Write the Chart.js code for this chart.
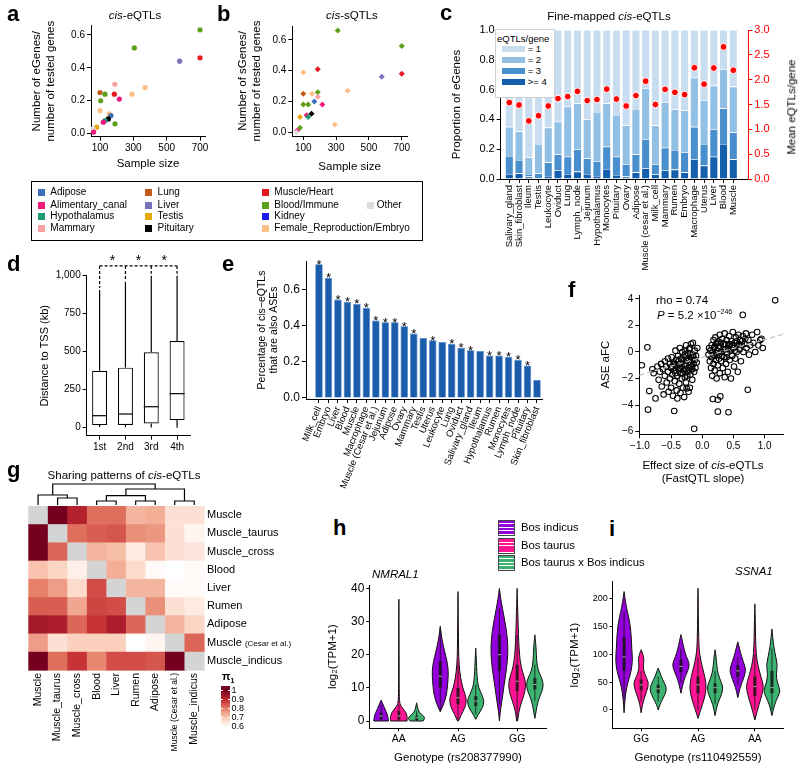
<!DOCTYPE html>
<html>
<head>
<meta charset="utf-8">
<title>cis-eQTL figure</title>
<script src="https://cdn.jsdelivr.net/npm/chart.js@4.4.1/dist/chart.umd.min.js"></script>
<style>
  body { margin: 0; background: #fff; }
  #fig { position: relative; width: 800px; height: 769px; overflow: hidden; font-family: "Liberation Sans", Arial, sans-serif; color: #000; }
  #fig canvas { position: absolute; }
  .t { position: absolute; white-space: nowrap; line-height: 1; }
  .c { transform: translate(-50%, -50%); }
  .lt { position: absolute; font-weight: bold; font-size: 22px; line-height: 22px; }
</style>
</head>
<body>
<div id="fig">
  <canvas id="ca" width="215" height="175" style="left:0;top:0"></canvas>
  <canvas id="cb" width="200" height="175" style="left:215px;top:0"></canvas>
  <canvas id="cc" width="360" height="270" style="left:440px;top:0"></canvas>
  <canvas id="cd" width="215" height="215" style="left:0;top:245px"></canvas>
  <canvas id="ce" width="330" height="265" style="left:220px;top:240px"></canvas>
  <canvas id="cf" width="240" height="210" style="left:560px;top:280px"></canvas>
  <canvas id="cg" width="305" height="305" style="left:0;top:460px"></canvas>
  <canvas id="ch" width="250" height="209" style="left:300px;top:560px"></canvas>
  <canvas id="ci" width="240" height="209" style="left:560px;top:560px"></canvas>

  <div class="lt" style="left:7px;top:3px">a</div>
  <div class="lt" style="left:217px;top:3px">b</div>
  <div class="lt" style="left:440px;top:2px">c</div>
  <div class="lt" style="left:7px;top:253px">d</div>
  <div class="lt" style="left:222px;top:253px">e</div>
  <div class="lt" style="left:568px;top:279px">f</div>
  <div class="lt" style="left:7px;top:459px">g</div>
  <div class="lt" style="left:333px;top:517px">h</div>
  <div class="lt" style="left:609px;top:518px">i</div>

  <div class="t c" style="left:135px;top:16px;font-size:11.5px"><i>cis</i>-eQTLs</div>
  <div class="t c" style="left:352px;top:16px;font-size:11.5px"><i>cis</i>-sQTLs</div>
  <div class="t c" style="left:609px;top:17px;font-size:11.5px">Fine-mapped <i>cis</i>-eQTLs</div>
  <div class="t" style="left:792px;top:107px;font-size:11.5px;color:#000;transform:translate(-50%,-50%) rotate(-90deg)">Mean eQTLs/gene</div>
  <div class="t c" style="left:124px;top:476px;font-size:11.5px">Sharing patterns of <i>cis</i>-eQTLs</div>
  <div class="t c" style="left:703px;top:466px;font-size:11.5px">Effect size of <i>cis</i>-eQTLs</div>
  <div class="t c" style="left:703px;top:479px;font-size:11.5px">(FastQTL slope)</div>
  <div class="t" style="left:656px;top:295px;font-size:11.5px">rho = 0.74</div>
  <div class="t" style="left:657px;top:308px;font-size:11.5px"><i>P</i> = 5.2 ×10<sup style="font-size:7px">−246</sup></div>
  <div class="t" style="left:372px;top:569px;font-size:11.5px;font-style:italic">NMRAL1</div>
  <div class="t" style="left:735px;top:566px;font-size:11.5px;font-style:italic">SSNA1</div>

  <div id="legab" style="position:absolute;left:31px;top:181px;width:390px;height:58px;border:1px solid #000;font-size:10px"></div>
  <div id="legc" style="position:absolute;left:495px;top:29px;width:58px;height:67px;background:#fff;border:1px solid #d0d0d0;font-size:9.5px"></div>
  <div id="legg"></div>
  <div id="legh"></div>
</div>

<script>
// ---------- a / b : eGenes and sGenes against sample size
const groups = ['Adipose', 'Alimentary_canal', 'Hypothalamus', 'Mammary', 'Lung', 'Liver', 'Testis', 'Pituitary',
  'Muscle/Heart', 'Blood/Immune', 'Kidney', 'Female_Reproduction/Embryo', 'Other'];
const groupColors = ['#3a6fb7', '#ef1a7c', '#1c9a78', '#f7a3a3', '#c25a1c', '#7a72b8', '#e5a70c', '#000000',
  '#e3191f', '#5c9f1a', '#1b1bf5', '#fdbf88', '#dcdcdc'];

const aSize  = [700, 306, 578, 700, 189, 370, 100, 130, 186, 104, 292, 216, 100, 156, 166, 150, 130, 120, 190, 80, 58, 62];
const aRatio = [0.63, 0.52, 0.44, 0.46, 0.30, 0.28, 0.25, 0.24, 0.24, 0.20, 0.24, 0.21, 0.14, 0.12, 0.11, 0.09, 0.08, 0.07, 0.06, 0.04, 0.03, 0.01];
const aGroup = [9, 9, 5, 8, 3, 11, 4, 9, 8, 9, 11, 1, 11, 11, 0, 7, 2, 1, 9, 6, 12, 1];

const bSize  = [310, 700, 188, 100, 578, 700, 100, 153, 188, 188, 370, 167, 100, 130, 216, 150, 120, 130, 80, 292, 80, 62, 58];
const bRatio = [0.66, 0.56, 0.41, 0.39, 0.36, 0.38, 0.25, 0.25, 0.26, 0.23, 0.27, 0.20, 0.18, 0.18, 0.18, 0.12, 0.11, 0.10, 0.10, 0.05, 0.03, 0.01, 0.00];
const bGroup = [9, 9, 8, 11, 5, 8, 4, 11, 9, 3, 11, 0, 9, 9, 1, 7, 1, 2, 6, 11, 9, 1, 12];

// ---------- c : fine-mapped eQTLs per gene
const cTissues = ['Salivary_gland', 'Skin_fibroblast', 'Ileum', 'Testis', 'Leukocyte', 'Oviduct', 'Lung', 'Lymph_node',
  'Jejunum', 'Hypothalamus', 'Monocytes', 'Pituitary', 'Ovary', 'Adipose', 'Muscle (cesar et al.)', 'Milk_cell',
  'Mammary', 'Rumen', 'Embryo', 'Macrophage', 'Uterus', 'Liver', 'Blood', 'Muscle'];
const cGe4 = [.034, .038, .016, .005, .020, .060, .034, .050, .034, .020, .067, .027, .016, .045, .072, .031, .060, .063, .045, .134, .090, .150, .235, .132];
const cEq3 = [.121, .090, .018, .033, .092, .105, .116, .150, .105, .100, .150, .123, .084, .120, .196, .069, .150, .132, .135, .216, .145, .185, .239, .181];
const cEq2 = [.195, .192, .111, .197, .233, .220, .335, .308, .261, .330, .291, .280, .260, .305, .342, .260, .305, .272, .280, .330, .295, .292, .264, .307];
const cEq1 = [.650, .680, .855, .765, .655, .615, .515, .492, .600, .550, .492, .570, .640, .530, .390, .640, .485, .533, .540, .320, .470, .373, .262, .380];
const cMean = [1.54, 1.49, 1.17, 1.275, 1.47, 1.62, 1.66, 1.765, 1.58, 1.60, 1.81, 1.61, 1.47, 1.68, 1.97, 1.50, 1.805, 1.745, 1.70, 2.24, 1.91, 2.235, 2.66, 2.19];
const cClasses = ['>= 4', '= 3', '= 2', '= 1'];
const cColors = ['#135fae', '#4a8fcd', '#92bfe4', '#c9ddf0'];

// ---------- d : distance to TSS by signal rank
const dRank = ['1st', '2nd', '3rd', '4th'];
const dLow  = [5, 3, 2, 0];
const dQ1   = [17, 18, 28, 50];
const dMed  = [79, 90, 138, 224];
const dQ3   = [375, 395, 496, 570];
const dHigh = [906, 960, 1000, 1000];

// ---------- e : share of cis-eQTLs that are ASEs
const eTissues = ['Milk_cell', 'Embryo', 'Liver', 'Blood', 'Muscle', 'Macrophage', 'Muscle (Cesar et al.)', 'Jejunum',
  'Adipose', 'Ovary', 'Mammary', 'Testis', 'Uterus', 'Leukocyte', 'Lung', 'Oviduct', 'Salivary_gland', 'Ileum',
  'Hypothalamus', 'Rumen', 'Monocytes', 'Lymph_node', 'Pituitary', 'Skin_fibroblast'];
const eShare = [0.742, 0.667, 0.546, 0.533, 0.522, 0.50, 0.43, 0.42, 0.42, 0.398, 0.357, 0.333, 0.32, 0.311, 0.30, 0.278, 0.265, 0.261, 0.235, 0.235, 0.228, 0.212, 0.18, 0.101];
const eSig = [1, 1, 1, 1, 1, 1, 1, 1, 1, 1, 1, 0, 1, 0, 1, 1, 1, 0, 1, 1, 1, 1, 1, 0];

// ---------- f : eQTL slope vs ASE aFC
const fPoints = [
  [-0.97, -1.0], [-0.88, 0.35], [-0.87, -4.35], [-0.85, -2.95], [-0.8, -1.3], [-0.78, -1.6], [-0.75, -3.5], [-0.72, -1.1],
  [-0.7, -2.1], [-0.68, -1.5], [-0.66, -0.9], [-0.65, -2.6], [-0.63, -1.3], [-0.62, -3.2], [-0.6, -0.7], [-0.6, -1.8],
  [-0.58, -1.1], [-0.57, -2.3], [-0.55, -0.5], [-0.55, -1.5], [-0.54, -3.0], [-0.52, -0.9], [-0.52, -2.0], [-0.5, -1.2],
  [-0.5, -2.7], [-0.49, -0.4], [-0.48, -1.7], [-0.47, -3.3], [-0.46, -0.8], [-0.45, -4.45], [-0.45, -1.4], [-0.44, -2.2],
  [-0.43, 0.1], [-0.42, -0.6], [-0.42, -1.0], [-0.41, -2.9], [-0.4, -1.8], [-0.4, -3.5], [-0.39, -0.3], [-0.38, -1.3],
  [-0.37, -2.4], [-0.36, -0.9], [-0.36, 0.3], [-0.35, -1.6], [-0.35, -3.1], [-0.34, -0.5], [-0.33, -2.0], [-0.33, -1.1],
  [-0.32, 0.0], [-0.31, -2.7], [-0.3, -0.7], [-0.3, -1.4], [-0.29, -3.4], [-0.28, -0.2], [-0.28, -1.9], [-0.27, -1.0],
  [-0.26, 0.5], [-0.26, -2.3], [-0.25, -0.6], [-0.25, -2.75], [-0.24, -1.5], [-0.23, -0.1], [-0.22, -1.2], [-0.22, -3.0],
  [-0.21, 0.2], [-0.2, -0.8], [-0.2, -2.7], [-0.19, -1.7], [-0.18, -0.4], [-0.18, 0.6], [-0.17, -1.1], [-0.16, -2.1],
  [-0.15, -0.2], [-0.15, 0.7], [-0.14, -0.9], [-0.13, -5.8], [-0.13, -1.5], [-0.12, 0.1], [-0.12, -0.6], [-0.11, -1.2],
  [-0.1, -0.3], [-0.09, -0.8], [-0.08, 0.3],
  [-0.45, -0.9], [-0.4, -1.1], [-0.38, -0.7], [-0.35, -1.2], [-0.33, -0.6], [-0.31, -1.6], [-0.29, -0.9], [-0.27, -1.3],
  [-0.25, -0.3], [-0.24, -1.8], [-0.22, -0.5], [-0.21, -1.4], [-0.19, -1.0], [-0.17, -0.6], [-0.16, -1.3], [-0.14, -0.4],
  [-0.2, 0.3], [-0.27, 0.1], [-0.48, -1.1], [-0.43, -1.6],
  [0.1, -0.2], [0.11, 0.3], [0.12, -0.7], [0.13, 0.1], [0.14, -1.2], [0.15, 0.5], [0.15, -0.4], [0.16, -1.8],
  [0.17, -3.55], [0.17, 0.0], [0.18, 0.9], [0.18, -0.9], [0.19, 0.3], [0.2, -1.4], [0.2, -0.3], [0.21, 1.1],
  [0.22, 0.6], [0.22, -0.6], [0.23, -2.0], [0.24, 0.1], [0.25, -3.6], [0.25, -4.5], [0.25, -1.0], [0.26, 0.8],
  [0.27, -0.2], [0.28, 1.3], [0.28, -1.6], [0.29, -3.35], [0.29, 0.4], [0.3, -0.7], [0.31, 0.0], [0.32, 1.0],
  [0.33, -1.2], [0.34, 0.6], [0.35, -0.4], [0.36, 1.4], [0.36, -1.9], [0.37, 0.2], [0.38, -0.9], [0.39, 0.9],
  [0.4, -0.1], [0.41, -1.5], [0.42, -4.55], [0.42, 0.5], [0.43, 1.2], [0.44, -0.6], [0.45, 0.1], [0.46, -2.0],
  [0.47, 0.8], [0.48, -0.3], [0.49, 1.5], [0.5, 0.3], [0.51, -1.1], [0.52, 0.7], [0.53, -0.5], [0.54, 1.1],
  [0.55, 0.0], [0.56, 0.5], [0.57, -1.5], [0.58, 1.3], [0.6, 0.2], [0.61, 0.9], [0.62, -0.7], [0.63, 0.5],
  [0.65, 2.8], [0.65, 1.2], [0.66, 0.0], [0.68, 0.6], [0.7, 1.4], [0.71, 0.3], [0.73, -2.85], [0.74, 0.9],
  [0.75, -0.2], [0.77, 0.5], [0.8, 1.3], [0.82, 0.7], [0.85, 0.0], [0.88, 1.5], [0.9, 0.5], [0.93, 0.9],
  [0.95, 1.0], [0.97, 0.3], [1.17, 3.9],
  [0.18, -0.2], [0.2, 0.4], [0.22, -0.1], [0.24, 0.7], [0.26, 0.3], [0.27, -0.5], [0.3, 0.7], [0.32, -0.3],
  [0.34, 0.2], [0.37, 0.6], [0.39, -0.4], [0.41, 0.3], [0.44, 0.6], [0.46, 0.2], [0.48, 0.5], [0.52, 0.1],
  [0.55, 0.8], [0.59, 0.6], [0.64, 0.8], [0.69, 1.0]
];
const fFit = [[-1.01, -1.75], [1.3, 1.34]];

// ---------- g : pi1 sharing between muscle / tissue sets
const gNames = ['Muscle', 'Muscle_taurus', 'Muscle_cross', 'Blood', 'Liver', 'Rumen', 'Adipose', 'Muscle (Cesar et al.)', 'Muscle_indicus'];
const gPi1 = [
  [null, 1.00, 0.92, 0.82, 0.82, 0.73, 0.74, 0.66, 0.66],
  [1.00, null, 0.82, 0.84, 0.85, 0.78, 0.77, 0.66, 0.62],
  [1.00, 0.83, null, 0.73, 0.72, 0.64, 0.71, 0.66, 0.65],
  [0.71, 0.68, 0.63, null, 0.74, 0.67, 0.61, 0.60, 0.61],
  [0.80, 0.76, 0.67, 0.86, null, 0.73, 0.73, 0.61, 0.61],
  [0.84, 0.84, 0.75, 0.87, 0.86, null, 0.78, 0.66, 0.64],
  [0.94, 0.93, 0.83, 0.89, 0.93, 0.83, null, 0.73, 0.68],
  [0.76, 0.66, 0.69, 0.69, 0.69, 0.60, 0.62, null, 0.83],
  [1.00, 0.82, 0.89, 0.79, 0.86, 0.86, 0.85, 1.00, null]
];
// merges: [left, right, height]; numbers are leaves, 'mK' is merge K
const gTree = [[1, 2, 7], [0, 'm0', 10], [3, 4, 4], [5, 6, 4], ['m2', 'm3', 9.3], [7, 8, 4], ['m4', 'm5', 16], ['m1', 'm6', 21]];
const piStops = [[0.6, [255, 255, 255]], [0.7, [250, 204, 183]], [0.8, [230, 128, 104]], [0.9, [196, 43, 50]], [1.0, [118, 0, 32]]];
const piTicks = [1, 0.9, 0.8, 0.7, 0.6];

// ---------- h / i : expression by genotype and breed
const breeds = ['Bos indicus', 'Bos taurus', 'Bos taurus x Bos indicus'];
const breedColors = ['#9400db', '#ff1493', '#3cb371'];
const hGeno = ['AA', 'AG', 'GG'];
// [genotype][breed] -> [[value, relative half width], ...]
const hViolins = [
  [[[0, .85], [1.5, .8], [3, .55], [4.5, .3], [6.3, 0]],
   [[0, .95], [1, 1], [2.5, .85], [4, .4], [5, .1], [8, .04], [15, .03], [25, .02], [36.7, 0]],
   [[0, .75], [.8, 1], [1.5, .8], [2.5, .35], [3.5, .15], [5.5, 0]]],
  [[[2.8, 0], [5, .4], [8, .75], [12, .9], [15, .95], [18, .8], [21, .5], [24, .25], [26, .12], [28.6, 0]],
   [[0, .05], [2, .4], [4, .8], [6, 1], [8, .85], [10, .55], [13, .3], [17, .12], [22, .06], [25, .06], [30, .03], [39, 0]],
   [[.5, 0], [2, .3], [4, .8], [6, 1], [8, .7], [10, .35], [12, .2], [15, .12], [18, .08], [22, 0]]],
  [[[0, 0], [3, .1], [6, .3], [10, .5], [15, .8], [20, 1], [25, .95], [30, .65], [34, .35], [37, .15], [40, 0]],
   [[0, .05], [3, .2], [6, .55], [9, .95], [12, 1], [15, .6], [18, .35], [22, .22], [26, .15], [31, .1], [35, .05], [40, 0]],
   [[.8, 0], [3, .15], [6, .35], [9, .85], [11, 1], [13, .8], [15, .4], [18, .2], [22, .15], [26, 0]]]
];
// [q1, median, q3, lower, upper]
const hBox = [
  [[0.5, 1.5, 2.5, 0, 5], [0.5, 1.5, 3, 0, 5], [0.3, 1, 1.5, 0, 3]],
  [[10, 13.5, 18, 3, 28], [5, 7, 10, 0, 17], [4.5, 6, 7.5, 2, 11]],
  [[15, 20, 26, 5, 34], [9, 12, 17, 0, 26], [9.5, 11, 13, 6, 17]]
];
const iGeno = ['GG', 'AG', 'AA'];
const iViolins = [
  [[[-5, 0], [20, .1], [40, .3], [55, .55], [70, .85], [90, 1], [110, .9], [130, .85], [155, .7], [175, .4], [195, .15], [212, 0]],
   [[-5, 0], [10, .15], [25, .45], [40, .8], [50, .85], [60, .55], [70, .3], [80, .25], [90, .35], [100, .2], [108, 0]],
   [[0, 0], [10, .2], [20, .55], [35, 1], [45, .85], [55, .5], [65, .25], [75, 0]]],
  [[[30, 0], [45, .2], [60, .5], [75, .95], [85, .95], [95, .65], [110, .35], [125, .15], [135, 0]],
   [[-15, 0], [0, .3], [20, .75], [40, 1], [60, .8], [80, .45], [95, .25], [110, .12], [150, .05], [190, .03], [218, 0]],
   [[-10, 0], [10, .25], [25, .7], [40, .95], [50, .7], [65, .35], [80, .2], [95, .12], [108, 0]]],
  [[[22, 0], [40, .25], [55, .65], [70, .95], [80, .8], [95, .45], [110, .2], [122, 0]],
   [[-18, 0], [0, .3], [20, .7], [35, .95], [45, 1], [60, .7], [80, .35], [100, .15], [130, .08], [160, .05], [190, 0]],
   [[-10, 0], [10, .3], [25, .75], [35, 1], [50, .6], [65, .5], [80, .65], [95, .45], [115, .2], [130, .1], [145, 0]]]
];
const iBox = [
  [[70, 95, 130, 20, 175], [35, 45, 55, 15, 70], [30, 38, 45, 15, 60]],
  [[68, 78, 90, 50, 110], [30, 45, 60, 0, 95], [30, 40, 48, 10, 70]],
  [[60, 70, 80, 45, 95], [25, 42, 60, 0, 100], [30, 40, 70, 0, 110]]
];

// ---------- shared setup
const FONT = '"Liberation Sans", Arial, sans-serif';
Chart.defaults.font.family = FONT;
Chart.defaults.font.size = 10;
Chart.defaults.color = '#000';
Chart.defaults.animation = false;
Chart.defaults.responsive = false;
Chart.defaults.devicePixelRatio = 1;
Chart.defaults.plugins.legend.display = false;
Chart.defaults.plugins.tooltip.enabled = false;

const fixSize = n => s => { if (s.isHorizontal()) s.height = n; else s.width = n; };
const fixTicks = vals => s => { s.ticks = vals.map(v => ({ value: v })); };

function axis(size, extra) {
  const base = {
    afterFit: fixSize(size),
    grid: { drawOnChartArea: false, tickLength: 4, color: '#000' },
    border: { color: '#000' },
    ticks: { color: '#000', padding: 2, autoSkip: false, maxRotation: 0 }
  };
  for (const k in extra) {
    const v = extra[k];
    base[k] = (v && typeof v === 'object' && !Array.isArray(v) && base[k]) ? Object.assign({}, base[k], v) : v;
  }
  return base;
}

// ---------- a, b
function sizeScatter(id, sizes, ratios, grp, style, radius, yTitle, r) {
  new Chart(document.getElementById(id), {
    type: 'scatter',
    data: { datasets: [{
      data: sizes.map((s, i) => ({ x: s, y: ratios[i] })),
      backgroundColor: grp.map(g => groupColors[g]),
      borderWidth: 0, pointStyle: style, pointRadius: radius
    }] },
    options: {
      layout: { padding: r.pad },
      scales: {
        x: axis(r.xh, { min: r.xmin, max: r.xmax, afterBuildTicks: fixTicks([100, 300, 500, 700]),
          ticks: { font: { size: 10 } },
          title: { display: true, text: 'Sample size', font: { size: 11.5 }, padding: { top: 0, bottom: r.tb } } }),
        y: axis(r.yw, { min: r.ymin, max: r.ymax, afterBuildTicks: fixTicks([0, 0.2, 0.4, 0.6]),
          ticks: { font: { size: 10 }, callback: v => v.toFixed(1) },
          title: { display: true, text: yTitle, font: { size: 11.5 }, padding: { top: r.tt, bottom: 0 } } })
      }
    }
  });
}
sizeScatter('ca', aSize, aRatio, aGroup, 'circle', 2.6, ['Number of eGenes/', 'number of tested genes'],
  { pad: { top: 25.7, right: 10 }, xh: 38.3, xmin: 46, xmax: 730, tb: 4.1, yw: 91, ymin: -0.018, ymax: 0.655, tt: 30.1 });
sizeScatter('cb', bSize, bRatio, bGroup, 'rectRot', 3, ['Number of sGenes/', 'number of tested genes'],
  { pad: { top: 26, right: 8 }, xh: 39, xmin: 33, xmax: 732, tb: 1.4, yw: 77.3, ymin: -0.024, ymax: 0.69, tt: 21.1 });

// legend shared by a and b
const legab = document.getElementById('legab');
const swX = [5.7, 113, 229.7, 334.7], rowY = [10.7, 23, 34.7, 46.7];
groups.forEach((g, i) => {
  const col = i < 12 ? Math.floor(i / 4) : 3, row = i < 12 ? i % 4 : 1;
  legab.insertAdjacentHTML('beforeend',
    `<div style="position:absolute;left:${swX[col]}px;top:${rowY[row] - 3.5}px;width:7px;height:7px;background:${groupColors[i]}"></div>` +
    `<div class="t" style="left:${swX[col] + (col === 3 ? 10 : 12.6)}px;top:${rowY[row] - 5.5}px">${g}</div>`);
});

// ---------- c
new Chart(document.getElementById('cc'), {
  type: 'bar',
  data: { datasets: [
    { type: 'scatter', data: cMean.map((v, i) => ({ x: i, y: v })), yAxisID: 'y2', pointRadius: 3.4,
      backgroundColor: '#ff0000', borderColor: '#ffffff', borderWidth: 1 },
    ...[cGe4, cEq3, cEq2, cEq1].map((arr, k) => ({
      label: cClasses[k], data: arr.map((v, i) => ({ x: i, y: v })), stack: 'fm',
      backgroundColor: cColors[k], borderColor: '#ffffff', borderWidth: 0.6,
      barPercentage: 0.85, categoryPercentage: 1
    }))
  ] },
  options: {
    layout: { padding: { top: 30 } },
    scales: {
      x: axis(91, { type: 'linear', stacked: true, offset: false, min: -0.883, max: 24.54,
        afterBuildTicks: fixTicks(cTissues.map((_, i) => i)), grid: { offset: false },
        ticks: { font: { size: 9.5 }, minRotation: 90, maxRotation: 90, callback: v => cTissues[v] } }),
      y: axis(60.7, { type: 'linear', stacked: true, min: 0, max: 1, afterBuildTicks: fixTicks([0, .2, .4, .6, .8, 1]),
        ticks: { font: { size: 11 }, callback: v => v.toFixed(1) },
        title: { display: true, text: 'Proportion of eGenes', font: { size: 11.5 }, padding: { top: 10, bottom: 0 } } }),
      y2: axis(51.7, { type: 'linear', position: 'right', min: 0, max: 3, afterBuildTicks: fixTicks([0, .5, 1, 1.5, 2, 2.5, 3]),
        grid: { color: '#ff0000' }, border: { color: '#ff0000' },
        ticks: { color: '#ff0000', font: { size: 11 }, callback: v => v.toFixed(1) } })
    }
  }
});
const legc = document.getElementById('legc');
legc.insertAdjacentHTML('beforeend', '<div class="t" style="left:1px;top:3.5px">eQTLs/gene</div>');
[3, 2, 1, 0].forEach((k, r) => {
  const cy = 19.3 + r * 11;
  legc.insertAdjacentHTML('beforeend',
    `<div style="position:absolute;left:5.7px;top:${cy - 3}px;width:23px;height:6px;background:${cColors[k]}"></div>` +
    `<div class="t" style="left:31.7px;top:${cy - 5}px">${cClasses[k]}</div>`);
});

// ---------- d
const dBracket = 1064, dStar = 1123;
new Chart(document.getElementById('cd'), {
  type: 'bar',
  data: { labels: dRank, datasets: [{
    data: dQ1.map((q, i) => [q, dQ3[i]]), backgroundColor: '#ffffff', borderColor: '#000', borderWidth: 1.2,
    borderSkipped: false, barPercentage: 0.58, categoryPercentage: 1
  }] },
  options: {
    layout: { padding: { top: 30.7, right: 25 } },
    scales: {
      x: axis(24.3, { offset: true, grid: { offset: false }, ticks: { font: { size: 10 } } }),
      y: axis(86.7, { min: -52.6, max: 1000, afterBuildTicks: fixTicks([0, 250, 500, 750, 1000]),
        ticks: { font: { size: 10 }, callback: v => v.toLocaleString('en-US') },
        title: { display: true, text: 'Distance to TSS (kb)', font: { size: 11 }, padding: { top: 38.4, bottom: 0 } } })
    }
  },
  plugins: [{
    id: 'boxparts',
    afterDraw(chart) {
      const { ctx, scales: { x, y } } = chart;
      const half = 0.29 * (x.getPixelForValue(1) - x.getPixelForValue(0));
      const seg = (x1, y1, x2, y2) => { ctx.beginPath(); ctx.moveTo(x1, y1); ctx.lineTo(x2, y2); ctx.stroke(); };
      ctx.save();
      ctx.strokeStyle = '#000';
      ctx.lineWidth = 1.2;
      dRank.forEach((_, i) => {
        const cx = x.getPixelForValue(i);
        seg(cx - half, y.getPixelForValue(dMed[i]), cx + half, y.getPixelForValue(dMed[i]));
        seg(cx, y.getPixelForValue(dQ3[i]), cx, y.getPixelForValue(dHigh[i]));
        seg(cx, y.getPixelForValue(dQ1[i]), cx, y.getPixelForValue(dLow[i]));
      });
      ctx.setLineDash([3, 2]);
      const yb = y.getPixelForValue(dBracket);
      seg(x.getPixelForValue(0), yb, x.getPixelForValue(3), yb);
      dRank.forEach((_, i) => seg(x.getPixelForValue(i), yb, x.getPixelForValue(i), y.getPixelForValue(dHigh[i]) - 2));
      ctx.setLineDash([]);
      ctx.fillStyle = '#000';
      ctx.font = '14px ' + FONT;
      ctx.textAlign = 'center';
      for (let i = 0; i < 3; i++) ctx.fillText('*', x.getPixelForValue(i + 0.5), y.getPixelForValue(dStar) + 8);
      ctx.restore();
    }
  }]
});

// ---------- e
new Chart(document.getElementById('ce'), {
  type: 'bar',
  data: { datasets: [{
    data: eShare.map((v, i) => ({ x: i, y: v })), backgroundColor: '#1c5dab', borderColor: '#5a8ed0', borderWidth: 0.7,
    barPercentage: 0.8, categoryPercentage: 1
  }] },
  options: {
    layout: { padding: { top: 21, right: 8 } },
    scales: {
      x: axis(106, { type: 'linear', offset: false, min: -1.37, max: 23.53, afterBuildTicks: fixTicks(eTissues.map((_, i) => i)),
        grid: { offset: false }, ticks: { font: { size: 9.5 }, minRotation: 68, maxRotation: 68, callback: v => eTissues[v] } }),
      y: axis(86, { min: -0.006, max: 0.76, afterBuildTicks: fixTicks([0, .2, .4, .6]),
        ticks: { font: { size: 12 }, callback: v => v.toFixed(1) },
        title: { display: true, text: ['Percentage of cis\u2212eQTLs', 'that are also ASEs'], font: { size: 10.5 }, padding: { top: 35.4, bottom: 0 } } })
    }
  },
  plugins: [{
    id: 'stars',
    afterDatasetsDraw(chart) {
      const { ctx } = chart;
      ctx.save();
      ctx.fillStyle = '#000';
      ctx.font = '13px ' + FONT;
      ctx.textAlign = 'center';
      chart.getDatasetMeta(0).data.forEach((bar, i) => { if (eSig[i]) ctx.fillText('*', bar.x, bar.y + 4.5); });
      ctx.restore();
    }
  }]
});

// ---------- f
const signed = d => v => (v < 0 ? '\u2212' : '') + Math.abs(v).toFixed(d);
new Chart(document.getElementById('cf'), {
  type: 'scatter',
  data: { datasets: [
    { type: 'line', data: fFit.map(([x, y]) => ({ x, y })), borderColor: '#c4c4c4', borderWidth: 1.2, borderDash: [5, 3], pointRadius: 0 },
    { data: fPoints.map(([x, y]) => ({ x, y })), pointRadius: 2.8, borderColor: '#000', borderWidth: 1.05, backgroundColor: 'rgba(0,0,0,0)' }
  ] },
  options: {
    layout: { padding: { top: 15, right: 16.7 } },
    scales: {
      x: axis(55.7, { min: -1.01, max: 1.3, afterBuildTicks: fixTicks([-1, -0.5, 0, 0.5, 1]),
        ticks: { font: { size: 10 }, callback: signed(1) } }),
      y: axis(79.3, { min: -6.21, max: 4.3, afterBuildTicks: fixTicks([-6, -4, -2, 0, 2, 4]),
        ticks: { font: { size: 10 }, callback: signed(0) },
        title: { display: true, text: 'ASE aFC', font: { size: 11.5 }, padding: { top: 39.1, bottom: 0 } } })
    }
  }
});

// ---------- g
function piColor(v) {
  for (let k = 1; k < piStops.length; k++) {
    const [v0, c0] = piStops[k - 1], [v1, c1] = piStops[k];
    if (v <= v1 || k === piStops.length - 1) {
      const t = Math.max(0, Math.min(1, (v - v0) / (v1 - v0)));
      return `rgb(${c0.map((c, j) => Math.round(c + t * (c1[j] - c))).join(',')})`;
    }
  }
}
const gCells = [];
gPi1.forEach((row, i) => row.forEach((v, j) => gCells.push({ x: j, y: i, v })));
new Chart(document.getElementById('cg'), {
  type: 'scatter',
  data: { datasets: [{ data: gCells, pointRadius: 0 }] },
  options: {
    layout: { padding: { top: 46, left: 28.3 } },
    scales: {
      x: { type: 'category', labels: gNames, offset: true, afterFit: fixSize(95),
        grid: { display: false, drawTicks: false }, border: { display: false },
        ticks: { autoSkip: false, minRotation: 90, maxRotation: 90, padding: 3, color: '#000',
          font: c => ({ size: c.index === 7 ? 8.5 : 10.5 }) } },
      y: { type: 'category', labels: gNames, position: 'right', offset: true, afterFit: fixSize(101),
        grid: { display: false, drawTicks: false }, border: { display: false },
        ticks: { autoSkip: false, padding: 3, color: '#000', font: { size: 11 },
          callback: (v, i) => i === 7 ? 'Muscle' : gNames[i] } }
    }
  },
  plugins: [{
    id: 'heat',
    beforeDatasetsDraw(chart) {
      const { ctx, scales: { x, y } } = chart;
      const w = x.getPixelForValue(1) - x.getPixelForValue(0);
      const h = Math.abs(y.getPixelForValue(1) - y.getPixelForValue(0));
      ctx.save();
      chart.data.datasets[0].data.forEach(c => {
        ctx.fillStyle = c.v == null ? '#d4d4d4' : piColor(c.v);
        ctx.fillRect(x.getPixelForValue(c.x) - w / 2, y.getPixelForValue(c.y) - h / 2, w + 0.6, h + 0.6);
      });
      ctx.restore();
    },
    afterDraw(chart) {
      const { ctx, chartArea, scales: { x, y } } = chart;
      // dendrogram over the columns
      const base = chartArea.top - 1, pos = {};
      const nx = n => typeof n === 'number' ? x.getPixelForValue(n) : pos[n].x;
      const ny = n => typeof n === 'number' ? base : pos[n].y;
      ctx.save();
      ctx.strokeStyle = '#000';
      ctx.lineWidth = 1.2;
      gTree.forEach(([a, b, ht], k) => {
        const xa = nx(a), xb = nx(b), yh = base - ht;
        ctx.beginPath();
        ctx.moveTo(xa, ny(a)); ctx.lineTo(xa, yh); ctx.lineTo(xb, yh); ctx.lineTo(xb, ny(b));
        ctx.stroke();
        pos['m' + k] = { x: (xa + xb) / 2, y: yh };
      });
      // small-print part of the row label
      ctx.font = '11px ' + FONT;
      const wM = ctx.measureText('Muscle ').width;
      ctx.font = '8px ' + FONT;
      ctx.fillStyle = '#000';
      ctx.textBaseline = 'middle';
      ctx.fillText('(Cesar et al.)', y.left + 3 + wM, y.getPixelForValue(7) + 1);
      ctx.restore();
    }
  }]
});
// pi1 colour key
(function () {
  const top = 686, bot = 729, at = v => 690.7 + (1 - v) * 90;
  const stops = piStops.map(([v, c]) => `rgb(${c.join(',')}) ${((bot - at(v)) / (bot - top) * 100).toFixed(1)}%`).join(',');
  let html = `<div class="t" style="left:222px;top:671px;font-size:11px;font-weight:bold">\u03c0<sub style="font-size:7px">1</sub></div>` +
    `<div style="position:absolute;left:221px;top:${top}px;width:9px;height:${bot - top}px;background:linear-gradient(to top, ${stops})"></div>`;
  piTicks.forEach(v => {
    html += `<div style="position:absolute;left:221px;top:${at(v) - 0.5}px;width:2px;height:1px;background:#fff"></div>` +
      `<div style="position:absolute;left:228px;top:${at(v) - 0.5}px;width:2px;height:1px;background:#fff"></div>` +
      `<div class="t" style="left:231.5px;top:${at(v) - 4.5}px;font-size:9px">${v}</div>`;
  });
  document.getElementById('legg').innerHTML = html;
})();

// ---------- h, i
function drawViolins(chart, shapes, boxes, halfW) {
  const { ctx, scales: { x, y } } = chart;
  const step = x.getPixelForValue(1) - x.getPixelForValue(0);
  const path = pts => {
    ctx.beginPath();
    ctx.moveTo(pts[0][0], pts[0][1]);
    for (let i = 1; i < pts.length - 1; i++) {
      ctx.quadraticCurveTo(pts[i][0], pts[i][1], (pts[i][0] + pts[i + 1][0]) / 2, (pts[i][1] + pts[i + 1][1]) / 2);
    }
    ctx.lineTo(pts[pts.length - 1][0], pts[pts.length - 1][1]);
    ctx.closePath();
  };
  ctx.save();
  shapes.forEach((grp, g) => grp.forEach((prof, k) => {
    const cx = x.getPixelForValue(g) + (k - 1) * 0.3 * step;
    const w = halfW * step;
    const right = prof.map(([v, f]) => [cx + f * w, y.getPixelForValue(v)]);
    const left = prof.map(([v, f]) => [cx - f * w, y.getPixelForValue(v)]).reverse();
    path(right.concat(left));
    ctx.fillStyle = breedColors[k];
    ctx.fill();
    ctx.strokeStyle = '#111';
    ctx.lineWidth = 1;
    ctx.stroke();
    const [q1, med, q3, lo, hi] = boxes[g][k];
    ctx.lineWidth = 0.8;
    ctx.beginPath();
    ctx.moveTo(cx, y.getPixelForValue(lo)); ctx.lineTo(cx, y.getPixelForValue(hi));
    ctx.stroke();
    ctx.fillStyle = 'rgba(20,20,20,0.75)';
    ctx.fillRect(cx - 1.6, y.getPixelForValue(q3), 3.2, y.getPixelForValue(q1) - y.getPixelForValue(q3));
    ctx.fillStyle = 'rgba(255,255,255,0.6)';
    ctx.fillRect(cx - 1.6, y.getPixelForValue(med) - 0.5, 3.2, 1);
  }));
  ctx.restore();
}
function violinChart(id, genos, shapes, boxes, o) {
  new Chart(document.getElementById(id), {
    type: 'scatter',
    data: { datasets: [] },
    options: {
      layout: { padding: o.pad },
      scales: {
        x: axis(40.7, { type: 'category', labels: genos, offset: true, grid: { offset: false, tickLength: 3 },
          ticks: { font: { size: o.xf } },
          title: { display: true, text: o.xt, font: { size: 11.5 }, padding: { top: 0, bottom: 4.1 } } }),
        y: axis(o.yw, { min: o.ymin, max: o.ymax, afterBuildTicks: fixTicks(o.yt), grid: { tickLength: 3 },
          ticks: { font: { size: o.yf } },
          title: { display: true, text: 'log\u2082(TPM+1)', font: { size: 11.5 }, padding: { top: o.tt, bottom: 0 } } })
      }
    },
    plugins: [{ id: 'violins', afterDatasetsDraw: c => drawViolins(c, shapes, boxes, o.hw) }]
  });
}
violinChart('ch', hGeno, hViolins, hBox, { pad: { top: 25, right: 3.3 }, yw: 69.3, ymin: -2.2, ymax: 41,
  yt: [0, 10, 20, 30, 40], yf: 12, tt: 26.4, xf: 10.5, xt: 'Genotype (rs208377990)', hw: 0.145 });
violinChart('ci', iGeno, iViolins, iBox, { pad: { top: 21.7, right: 16.7 }, yw: 52.7, ymin: -32.8, ymax: 229.7,
  yt: [0, 50, 100, 150, 200], yf: 9, tt: 8.1, xf: 10, xt: 'Genotype (rs110492559)', hw: 0.15 });

const legh = document.getElementById('legh');
breeds.forEach((b, k) => {
  const cy = 528.3 + k * 17.5;
  legh.insertAdjacentHTML('beforeend',
    `<div style="position:absolute;left:498px;top:${cy - 8}px;width:15px;height:14px;border:1px solid #444;` +
    `background:repeating-linear-gradient(to bottom, ${breedColors[k]} 0 2.5px, rgba(255,255,255,0.45) 2.5px 3.5px)"></div>` +
    `<div class="t" style="left:521px;top:${cy - 6}px;font-size:11.3px">${b}</div>`);
});
</script>
</body>
</html>
